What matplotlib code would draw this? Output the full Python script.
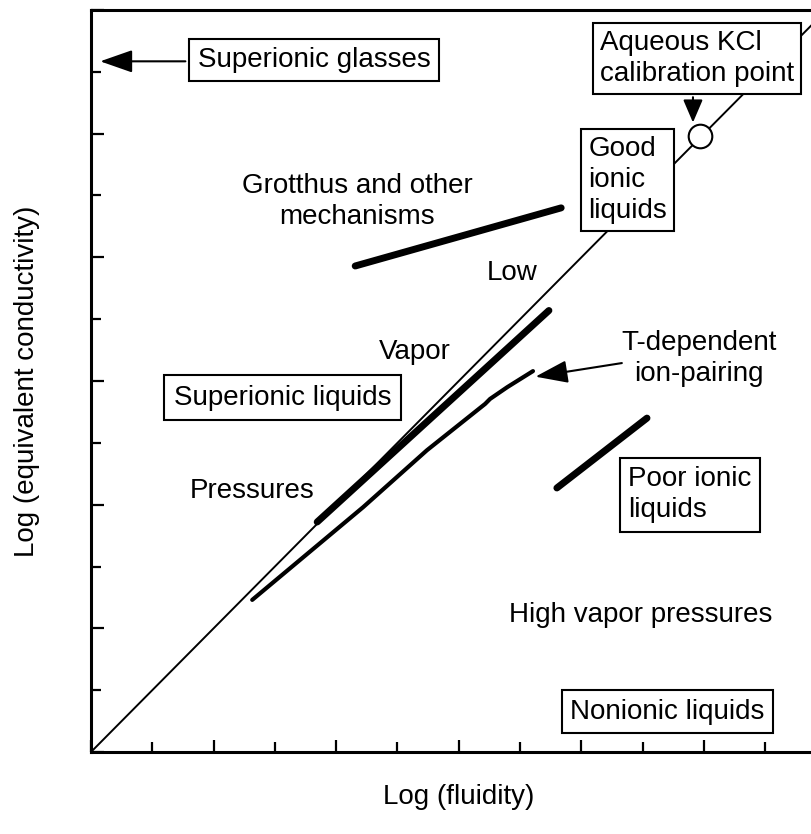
import matplotlib
matplotlib.use("Agg")
import matplotlib.pyplot as plt

plt.rcParams['font.family'] = ['Liberation Sans', 'DejaVu Sans']

# ---- data (log units, arbitrary) ----
diag_x = [0, 12]
diag_y = [0, 12]
grotthus_x = [4.31, 7.67]
grotthus_y = [7.86, 8.80]
vapor_x = [3.69, 7.47]
vapor_y = [3.72, 7.14]
ionpair_x = [2.63, 4.44, 5.48, 6.43, 6.51, 6.79, 7.21]
ionpair_y = [2.46, 3.96, 4.88, 5.63, 5.71, 5.90, 6.16]
poor_x = [7.60, 9.07]
poor_y = [4.27, 5.40]
kcl_x = [9.93]
kcl_y = [9.97]

W, H = 812, 834
fig = plt.figure(figsize=(W / 100, H / 100), dpi=100)
ax = fig.add_axes([91 / W, (H - 752) / H, 61.3 * 12 / W, (752 - 10) / H])
ax.set_xlim(0, 12)
ax.set_ylim(0, 12)

for s in ['top', 'right', 'bottom', 'left']:
    ax.spines[s].set_linewidth(2.2)
ax.set_xticks(range(0, 13, 2))
ax.set_xticks(range(1, 13, 2), minor=True)
ax.set_yticks(range(0, 13, 2))
ax.set_yticks(range(1, 13, 2), minor=True)
ax.tick_params(which='major', direction='in', length=9, width=1.6, labelleft=False, labelbottom=False)
ax.tick_params(which='minor', direction='in', length=7, width=1.6)

FS = 20
ax.set_xlabel('Log (fluidity)', fontsize=FS, labelpad=20)
ax.set_ylabel('Log (equivalent conductivity)', fontsize=FS, labelpad=33)

# lines
ax.plot(diag_x, diag_y, color='black', lw=1.4, zorder=2, solid_capstyle='butt')
ax.plot(grotthus_x, grotthus_y, color='black', lw=5, solid_capstyle='round', zorder=3)
ax.plot(vapor_x, vapor_y, color='black', lw=5, solid_capstyle='round', zorder=3)
ax.plot(ionpair_x, ionpair_y, color='black', lw=3, solid_capstyle='round', zorder=3)
ax.plot(poor_x, poor_y, color='black', lw=5, solid_capstyle='round', zorder=3)
ax.plot(kcl_x, kcl_y, marker='o', ms=17, mfc='white', mec='black', mew=1.5, zorder=4, ls='none')

box = dict(boxstyle='square,pad=0.3', fc='white', ec='black', lw=1.5)
LS = 1.25

ax.text(3.64, 11.19, 'Superionic glasses', fontsize=FS, ha='center', va='center', bbox=box, zorder=5)
ax.text(8.30, 11.21, 'Aqueous KCl\ncalibration point', fontsize=FS, ha='left', va='center',
        linespacing=LS, bbox=dict(boxstyle='square,pad=0.25', fc='white', ec='black', lw=1.5), zorder=5)
ax.text(8.11, 9.25, 'Good\nionic\nliquids', fontsize=FS, ha='left', va='center',
        linespacing=LS, bbox=dict(boxstyle='square,pad=0.25', fc='white', ec='black', lw=1.5), zorder=5)
ax.text(4.34, 8.90, 'Grotthus and other\nmechanisms', fontsize=FS, ha='center', va='center',
        linespacing=LS, zorder=5)
ax.text(6.87, 7.75, 'Low', fontsize=FS, ha='center', va='center', zorder=5)
ax.text(5.29, 6.47, 'Vapor', fontsize=FS, ha='center', va='center', zorder=5)
ax.text(2.63, 4.22, 'Pressures', fontsize=FS, ha='center', va='center', zorder=5)
ax.text(3.13, 5.73, 'Superionic liquids', fontsize=FS, ha='center', va='center',
        bbox=dict(boxstyle='square,pad=0.35', fc='white', ec='black', lw=1.5), zorder=5)
ax.text(9.92, 6.37, 'T-dependent\nion-pairing', fontsize=FS, ha='center', va='center',
        linespacing=LS, zorder=5)
ax.text(8.76, 4.16, 'Poor ionic\nliquids', fontsize=FS, ha='left', va='center',
        linespacing=LS, bbox=dict(boxstyle='square,pad=0.3', fc='white', ec='black', lw=1.5), zorder=5)
ax.text(8.96, 2.22, 'High vapor pressures', fontsize=FS, ha='center', va='center', zorder=5)
ax.text(9.40, 0.65, 'Nonionic liquids', fontsize=FS, ha='center', va='center', bbox=box, zorder=5)

arrow = dict(arrowstyle='-|>,head_length=1.0,head_width=0.35', lw=1.5, color='black',
             mutation_scale=20, shrinkA=0, shrinkB=0)
ax.annotate('', xy=(0.15, 11.17), xytext=(1.54, 11.17), arrowprops=arrow, zorder=6)
ax.annotate('', xy=(9.82, 10.18), xytext=(9.82, 10.59),
            arrowprops=dict(arrow, arrowstyle='-|>,head_length=0.7,head_width=0.3'), zorder=6)
ax.annotate('', xy=(7.25, 6.07), xytext=(8.66, 6.29), arrowprops=arrow, zorder=6)

fig.savefig('out.png', dpi=100)
